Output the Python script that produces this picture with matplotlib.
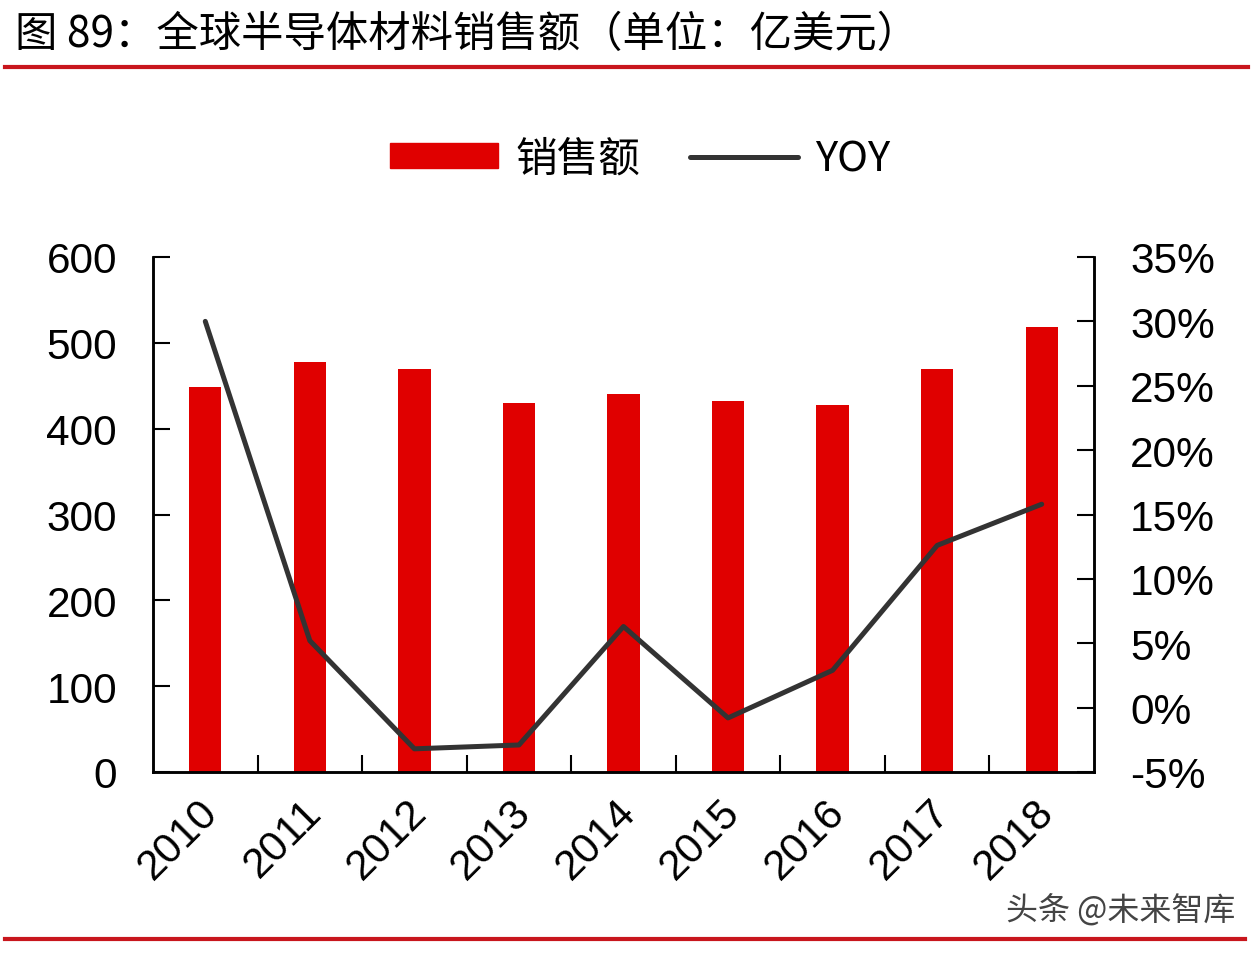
import matplotlib
matplotlib.use("Agg")
import matplotlib.pyplot as plt
from matplotlib.lines import Line2D
from matplotlib.patches import Patch
from matplotlib.transforms import ScaledTranslation
import numpy as np

years = ["2010", "2011", "2012", "2013", "2014", "2015", "2016", "2017", "2018"]
sales = [449, 478, 470, 430, 440, 432, 428, 469, 519]          # 亿美元
yoy = [30.0, 5.2, -3.2, -2.9, 6.3, -0.8, 2.9, 12.6, 15.8]      # %

left_ticks = [0, 100, 200, 300, 400, 500, 600]
right_ticks = [-5, 0, 5, 10, 15, 20, 25, 30, 35]

plt.rcParams["font.family"] = ["Liberation Sans", "Noto Sans CJK SC", "DejaVu Sans"]
cjk = ["Noto Sans CJK SC", "DejaVu Sans"]

fig = plt.figure(figsize=(12.6, 9.54), dpi=100)
ax = fig.add_axes([153 / 1260, 1 - 773 / 954, 941 / 1260, 515 / 954])
ax2 = ax.twinx()

x = np.arange(len(years))
ax.bar(x, sales, width=0.31, color="#e00000", zorder=2)
ax2.plot(x, yoy, color="#333333", lw=3.6, solid_capstyle="round", zorder=3)

ax.set_xlim(-0.5, len(years) - 0.5)
ax.set_ylim(0, 600)
ax.set_yticks(left_ticks)
ax2.set_ylim(-5, 35)
ax2.set_yticks(right_ticks)
ax2.set_yticklabels([f"{v}%" for v in right_ticks])

ax.set_xticks(x)
ax.set_xticklabels(years, rotation=45, ha="right", rotation_mode="anchor", fontsize=30.5)
ax.tick_params(axis="x", length=0, pad=14)
shift = ScaledTranslation(-8 / 100, 0, fig.dpi_scale_trans)
for lbl in ax.get_xticklabels():
    lbl.set_transform(lbl.get_transform() + shift)
ax.set_xticks(np.arange(0.5, len(years) - 1, 1.0), minor=True)
ax.tick_params(axis="x", which="minor", direction="in", length=12, width=1.5)
ax.tick_params(axis="y", direction="in", length=12, width=1.5, labelsize=30.5, pad=26)
ax2.tick_params(axis="y", direction="in", length=12, width=1.5, labelsize=30.5, pad=26)

for a in (ax, ax2):
    a.spines["top"].set_visible(False)
    for s in ("left", "right", "bottom"):
        a.spines[s].set_linewidth(1.8)
        a.spines[s].set_color("black")

handles = [Patch(color="#e00000"), Line2D([], [], color="#333333", lw=3.6, solid_capstyle="round")]
fig.legend(handles, ["销售额", "YOY"], loc="center", bbox_to_anchor=(0.508, 1 - 160 / 954),
           ncol=2, frameon=False, handlelength=2.6, handleheight=0.55,
           columnspacing=1.2, handletextpad=0.4,
           prop={"family": ["Noto Sans CJK SC", "Liberation Sans"], "size": 30})

fig.text(15 / 1260, 1 - 35 / 954, "图 89：全球半导体材料销售额（单位：亿美元）",
         fontsize=30.5, family=cjk, va="center", ha="left", weight="medium")
fig.add_artist(Line2D([5 / 1260, 1248 / 1260], [1 - 68 / 954] * 2, color="#c8161d", lw=3))
fig.add_artist(Line2D([5 / 1260, 1245 / 1260], [1 - 940 / 954] * 2, color="#c8161d", lw=3))
fig.text(1235 / 1260, 1 - 910 / 954, "头条 @未来智库", fontsize=23, family=cjk,
         color="#444444", ha="right", va="center")

fig.savefig("out.png", dpi=100, facecolor="white")
